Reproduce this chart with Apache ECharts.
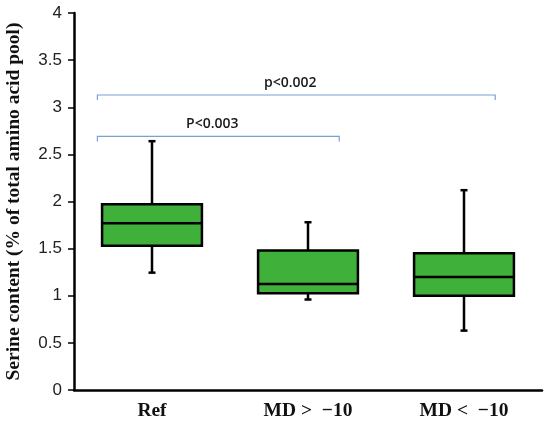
<!DOCTYPE html>
<html><head><meta charset="utf-8">
<script src="https://cdn.jsdelivr.net/npm/echarts@6/dist/echarts.min.js"></script>
<style>html,body{margin:0;padding:0;background:#fff}#c{width:550px;height:427px}</style>
</head><body><div id="c"></div>
<script>
var categories = ['Ref', 'MD >  \u221210', 'MD <  \u221210'];
// [min, Q1, median, Q3, max]
var boxRef = [1.245, 1.53, 1.77, 1.97, 2.64];
var boxMdGt = [0.96, 1.026, 1.125, 1.48, 1.78];
var boxMdLt = [0.63, 1.00, 1.20, 1.45, 2.12];
var yTicks = [0, 0.5, 1, 1.5, 2, 2.5, 3, 3.5, 4];
// brackets: [fromIndex, toIndex, yValue, label]
var brackets = [[0, 2, 3.13, 'p<0.002'], [0, 1, 2.69, 'P<0.003']];

var boxes = [boxRef, boxMdGt, boxMdLt];
var boxData = boxes.map(function (b, i) { return [i].concat(b); });

var chart = echarts.init(document.getElementById('c'));
chart.setOption({
  animation: false,
  grid: { left: 74, right: 8, top: 13, bottom: 37, containLabel: false, outerBoundsMode: 'none' },
  xAxis: {
    type: 'category', data: categories,
    axisLine: { lineStyle: { color: '#000', width: 2.5 } },
    axisTick: { alignWithLabel: true, length: 4, lineStyle: { color: '#000', width: 2 } },
    axisLabel: { fontFamily: 'Liberation Serif', fontWeight: 'bold', fontSize: 19.5, color: '#111', margin: 11 }
  },
  yAxis: {
    type: 'value', min: 0, max: 4, interval: 0.5,
    name: 'Serine content (% of total amino acid pool)',
    nameLocation: 'middle', nameGap: 50,
    nameTextStyle: { fontFamily: 'Liberation Serif', fontWeight: 'bold', fontSize: 19.5, color: '#111' },
    axisLine: { show: true, lineStyle: { color: '#000', width: 2.5 } },
    axisTick: { show: true, length: 6, lineStyle: { color: '#000', width: 1.5 } },
    splitLine: { show: false },
    axisLabel: {
      fontFamily: 'Liberation Sans', fontSize: 17, color: '#222', margin: 12,
      formatter: function (v) { return yTicks.indexOf(v) >= 0 ? String(v) : ''; }
    }
  },
  series: [
    {
      type: 'custom',
      data: boxData,
      encode: { x: 0, y: [1, 2, 3, 4, 5] },
      renderItem: function (params, api) {
        var i = api.value(0);
        var pMin = api.coord([i, api.value(1)]);
        var pQ1 = api.coord([i, api.value(2)]);
        var pMed = api.coord([i, api.value(3)]);
        var pQ3 = api.coord([i, api.value(4)]);
        var pMax = api.coord([i, api.value(5)]);
        var band = api.size([1, 0])[0];
        var hw = band * 0.32;
        var cap = 3.5;
        var x = pQ1[0];
        var ls = { stroke: '#000', lineWidth: 2.5 };
        return {
          type: 'group',
          children: [
            { type: 'line', shape: { x1: x, y1: pMax[1], x2: x, y2: pQ3[1] }, style: ls },
            { type: 'line', shape: { x1: x - cap, y1: pMax[1], x2: x + cap, y2: pMax[1] }, style: { stroke: '#000', lineWidth: 2.5 } },
            { type: 'line', shape: { x1: x, y1: pMin[1], x2: x, y2: pQ1[1] }, style: ls },
            { type: 'line', shape: { x1: x - cap, y1: pMin[1], x2: x + cap, y2: pMin[1] }, style: { stroke: '#000', lineWidth: 2.5 } },
            { type: 'rect', shape: { x: x - hw, y: pQ3[1], width: hw * 2, height: pQ1[1] - pQ3[1] }, style: { fill: '#3fb03a', stroke: '#000', lineWidth: 2.5 } },
            { type: 'line', shape: { x1: x - hw, y1: pMed[1], x2: x + hw, y2: pMed[1] }, style: ls }
          ]
        };
      }
    },
    {
      type: 'custom',
      data: brackets,
      encode: { x: 0, y: 2 },
      renderItem: function (params, api) {
        var from = api.value(0), to = api.value(1), yv = api.value(2);
        var label = brackets[params.dataIndex][3];
        var band = api.size([1, 0])[0];
        var p0 = api.coord([from, yv]);
        var p1 = api.coord([to, yv]);
        var xl = p0[0] - band * 0.35;
        var xr = p1[0] + band * 0.2;
        var y = p0[1];
        var st = { stroke: '#7aa0d4', lineWidth: 1.2, fill: 'none' };
        return {
          type: 'group',
          children: [
            { type: 'polyline', shape: { points: [[xl, y + 5], [xl, y], [xr, y], [xr, y + 5]] }, style: st },
            { type: 'text', x: (xl + xr) / 2 - 6, y: y - 5, style: { text: label, fontFamily: 'Open Sans', fontSize: 14, fontWeight: 600, fill: '#1a1a1a', align: 'center', verticalAlign: 'bottom' } }
          ]
        };
      }
    }
  ]
});
</script></body></html>
